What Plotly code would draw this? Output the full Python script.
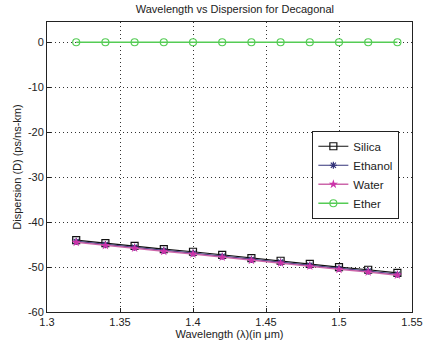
import plotly.graph_objects as go

wavelength = [1.32, 1.34, 1.36, 1.38, 1.40, 1.42, 1.44, 1.46, 1.48, 1.50, 1.52, 1.54]
silica = [-44.0, -44.7, -45.3, -46.0, -46.6, -47.3, -48.0, -48.6, -49.3, -50.0, -50.6, -51.3]
ethanol = [-44.3, -45.0, -45.6, -46.3, -46.9, -47.6, -48.3, -48.9, -49.6, -50.3, -50.9, -51.6]
water = [-44.5, -45.2, -45.8, -46.5, -47.1, -47.8, -48.5, -49.1, -49.8, -50.5, -51.1, -51.8]
ether = [0, 0, 0, 0, 0, 0, 0, 0, 0, 0, 0, 0]
x_ticks = [1.3, 1.35, 1.4, 1.45, 1.5, 1.55]
x_labels = ["1.3", "1.35", "1.4", "1.45", "1.5", "1.55"]
y_ticks = [-60, -50, -40, -30, -20, -10, 0]
y_labels = ["-60", "-50", "-40", "-30", "-20", "-10", "0"]

fig = go.Figure()
fig.add_trace(go.Scatter(x=wavelength, y=silica, name="Silica", mode="lines+markers",
                         line=dict(color="#111111", width=1.2),
                         marker=dict(symbol="square-open", size=7, color="#111111", line=dict(width=1.2))))
fig.add_trace(go.Scatter(x=wavelength, y=ethanol, name="Ethanol", mode="lines+markers",
                         line=dict(color="#33337a", width=1.2),
                         marker=dict(symbol="asterisk-open", size=6, color="#33337a", line=dict(width=1.2))))
fig.add_trace(go.Scatter(x=wavelength, y=water, name="Water", mode="lines+markers",
                         line=dict(color="#cc66aa", width=1.5),
                         marker=dict(symbol="star", size=7, color="#cc33aa", line=dict(width=0))))
fig.add_trace(go.Scatter(x=wavelength, y=ether, name="Ether", mode="lines+markers",
                         line=dict(color="#55cc55", width=1.5),
                         marker=dict(symbol="circle-open", size=7, color="#55cc55", line=dict(width=1.2))))

font = "Liberation Sans, Arial, sans-serif"
fig.update_layout(
    width=435, height=350,
    margin=dict(l=47, r=13, t=22, b=33),
    paper_bgcolor="white", plot_bgcolor="white",
    font=dict(family=font, size=11, color="#222222"),
    title=dict(text="Wavelength vs Dispersion for Decagonal", x=0.54, xanchor="center",
               y=0.975, yanchor="middle", font=dict(size=11)),
    showlegend=True,
    legend=dict(x=0.727, y=0.625, xanchor="left", yanchor="top", bgcolor="white",
                bordercolor="#222222", borderwidth=1, font=dict(size=11.5),
                itemwidth=30, tracegroupgap=0),
)
fig.update_xaxes(range=[1.3, 1.55], tickvals=x_ticks, ticktext=x_labels,
                 showgrid=True, gridcolor="#333333", griddash="1px,3px", gridwidth=1,
                 showline=True, linecolor="#222222", mirror=True, zeroline=False,
                 ticks="inside", ticklen=4, tickcolor="#222222",
                 title=dict(text="Wavelength (λ)(in μm)", standoff=2, font=dict(size=11)))
fig.update_yaxes(range=[-60, 4.5], tickvals=y_ticks, ticktext=y_labels,
                 showgrid=True, gridcolor="#333333", griddash="1px,3px", gridwidth=1,
                 showline=True, linecolor="#222222", mirror=True, zeroline=False,
                 ticks="inside", ticklen=4, tickcolor="#222222",
                 title=dict(text="Dispersion (D) (ps/ns-km)", standoff=4, font=dict(size=11)))

fig.write_html("out.html")
